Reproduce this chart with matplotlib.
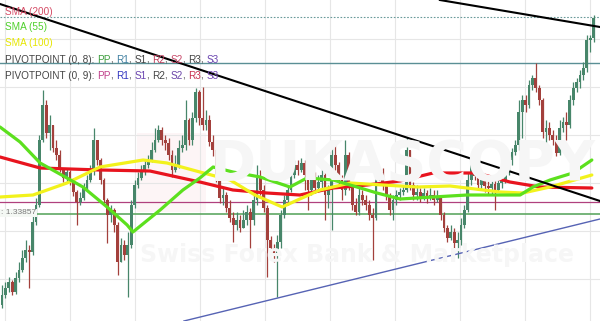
import numpy as np
import matplotlib
matplotlib.use("Agg")
import matplotlib.pyplot as plt
from matplotlib.patches import Rectangle

# prices in pips above 1.0000 (3386 -> 1.3386)
close_pips = [3305, 3312, 3318, 3308, 3322, 3330, 3342, 3350, 3348, 3378, 3395, 3460, 3495, 3467, 3475, 3452, 3445, 3432, 3422, 3428,
              3420, 3408, 3398, 3402, 3412, 3420, 3428, 3460, 3440, 3420, 3400, 3385, 3390, 3375, 3338, 3355, 3345, 3355, 3395, 3415,
              3422, 3428, 3435, 3440, 3450, 3460, 3470, 3460, 3457, 3445, 3430, 3435, 3452, 3455, 3480, 3460, 3482, 3508, 3482, 3475,
              3480, 3458, 3450, 3425, 3402, 3405, 3392, 3382, 3375, 3380, 3372, 3380, 3388, 3380, 3400, 3422, 3410, 3392, 3360, 3352,
              3345, 3358, 3385, 3400, 3410, 3425, 3435, 3430, 3437, 3425, 3410, 3422, 3412, 3418, 3425, 3405, 3410, 3445, 3435, 3420,
              3410, 3445, 3415, 3395, 3388, 3405, 3400, 3395, 3385, 3382, 3422, 3428, 3415, 3405, 3390, 3400, 3405, 3408, 3410, 3450,
              3415, 3405, 3408, 3402, 3407, 3402, 3405, 3400, 3404, 3385, 3372, 3362, 3368, 3357, 3360, 3375, 3390, 3420, 3435, 3424,
              3415, 3420, 3414, 3412, 3416, 3410, 3417, 3420, 3430, 3440, 3448, 3455, 3488, 3500, 3495, 3515, 3522, 3512, 3500, 3468,
              3472, 3465, 3460, 3447, 3472, 3478, 3475, 3500, 3512, 3518, 3525, 3532, 3560, 3562, 3582]
high_pips = [3315, 3318, 3323, 3320, 3328, 3338, 3350, 3360, 3355, 3385, 3402, 3465, 3510, 3500, 3485, 3470, 3460, 3450, 3430, 3432,
             3430, 3422, 3410, 3408, 3417, 3425, 3435, 3472, 3458, 3442, 3422, 3402, 3395, 3392, 3378, 3362, 3360, 3368, 3400, 3420,
             3428, 3435, 3440, 3445, 3458, 3472, 3475, 3473, 3465, 3462, 3450, 3445, 3460, 3465, 3500, 3482, 3488, 3512, 3510, 3513,
             3490, 3485, 3465, 3452, 3428, 3412, 3408, 3400, 3388, 3388, 3385, 3390, 3395, 3392, 3408, 3435, 3430, 3415, 3395, 3364,
             3356, 3365, 3390, 3405, 3414, 3430, 3440, 3440, 3442, 3440, 3428, 3428, 3428, 3425, 3432, 3430, 3415, 3458, 3460, 3438,
             3425, 3460, 3448, 3418, 3402, 3412, 3410, 3405, 3400, 3392, 3428, 3432, 3432, 3418, 3407, 3405, 3410, 3412, 3415, 3463,
             3450, 3418, 3415, 3412, 3412, 3410, 3412, 3410, 3410, 3405, 3388, 3375, 3375, 3372, 3368, 3382, 3395, 3428, 3440, 3440,
             3428, 3424, 3422, 3420, 3422, 3420, 3422, 3425, 3435, 3445, 3452, 3460, 3500, 3505, 3505, 3520, 3525, 3537, 3515, 3502,
             3480, 3478, 3470, 3465, 3480, 3483, 3488, 3505, 3518, 3522, 3530, 3538, 3565, 3565, 3585]
low_pips = [3292, 3302, 3308, 3305, 3306, 3318, 3328, 3338, 3312, 3345, 3375, 3393, 3458, 3462, 3450, 3448, 3440, 3428, 3418, 3418,
            3415, 3404, 3375, 3395, 3400, 3410, 3418, 3425, 3435, 3416, 3395, 3357, 3378, 3368, 3325, 3338, 3340, 3303, 3352, 3392,
            3412, 3420, 3425, 3432, 3438, 3448, 3458, 3455, 3450, 3440, 3423, 3428, 3432, 3448, 3450, 3455, 3455, 3478, 3475, 3470,
            3470, 3454, 3444, 3418, 3397, 3395, 3388, 3378, 3358, 3370, 3368, 3372, 3375, 3352, 3375, 3395, 3405, 3388, 3323, 3345,
            3338, 3303, 3352, 3382, 3395, 3408, 3422, 3425, 3428, 3410, 3390, 3405, 3407, 3408, 3412, 3380, 3392, 3370, 3430, 3415,
            3400, 3405, 3410, 3390, 3385, 3385, 3395, 3390, 3380, 3340, 3380, 3420, 3410, 3400, 3385, 3380, 3395, 3400, 3405, 3408,
            3410, 3400, 3400, 3398, 3400, 3397, 3400, 3395, 3398, 3380, 3368, 3358, 3360, 3352, 3342, 3355, 3372, 3388, 3415, 3420,
            3410, 3410, 3408, 3405, 3405, 3390, 3408, 3412, 3417, 3425, 3435, 3445, 3450, 3462, 3488, 3492, 3510, 3508, 3495, 3462,
            3442, 3460, 3455, 3444, 3445, 3468, 3460, 3472, 3495, 3508, 3512, 3520, 3528, 3548, 3558]
first_open_pips = 3295

# moving averages, read at a few bars (bar index, pips)
sma200_idx = [-0.6, 11.2, 28.8, 43.5, 58.2, 67.9, 77.9, 87.6, 97.4, 107.4, 117.1, 126.8, 139.7, 149.4, 158.2, 173.5]
sma200_pips = [3443, 3432, 3430, 3429, 3418, 3410, 3407, 3405, 3412, 3415, 3419, 3427, 3427, 3418, 3413, 3412]
sma100_idx = [-0.6, 9.1, 19.1, 28.8, 41.5, 48.5, 58.2, 67.1, 74.4, 82.4, 87.6, 93.5, 102.4, 112.1, 122.1, 131.8, 146.5, 153.2, 161.2, 173.5]
sma100_pips = [3403, 3405, 3417, 3433, 3440, 3437, 3428, 3420, 3405, 3393, 3401, 3410, 3417, 3415, 3413, 3414, 3408, 3407, 3413, 3425]
sma55_idx = [-0.6, 5.3, 11.2, 19.1, 23.8, 30.9, 36.8, 38.5, 46.5, 53.2, 58.2, 62.1, 67.9, 75.9, 84.7, 89.7, 97.4, 104.4, 110.3,
             117.1, 126.8, 136.8, 152.4, 156.2, 161.2, 167.9, 173.5]
sma55_pips = [3473, 3458, 3437, 3422, 3413, 3393, 3375, 3368, 3390, 3410, 3422, 3433, 3428, 3423, 3413, 3422, 3420, 3413, 3407,
              3401, 3403, 3405, 3405, 3413, 3420, 3427, 3440]

# horizontal levels and trendlines
last_price = 1.3583
pivot_r = 1.3537
pivot_pp = 1.3398
pivot_s = 1.33857
trend_down = ([-0.6, 175.9], [3596, 3399])
trend_top = ([128.8, 175.9], [3600, 3573])
trend_up = ([53.5, 175.9], [3279, 3381])


def px(p):
    return 1 + np.asarray(p, dtype=float) / 10000


fig = plt.figure(figsize=(6, 3.21), dpi=100)
ax = fig.add_axes([0, 0, 1, 1])
ax.set_xlim(-0.6, 175.9)
ax.set_ylim(1.3279, 1.3600)
ax.set_xticks(0.88 + 19.12 * np.arange(10))
ax.set_yticks(px(3561 - 48 * np.arange(6)))
ax.tick_params(length=0, labelbottom=False, labelleft=False)
ax.grid(True, color="#e6e6e6", lw=0.8)
for s in ax.spines.values():
    s.set_visible(False)

# watermark (very faint)
ax.add_patch(Rectangle((0.228, 0.34), 0.115, 0.245, transform=ax.transAxes, color="#fdf5f6", zorder=0.5, lw=0))
fig.text(210 / 600, 1 - 165 / 321, "DUKASCOPY", fontsize=40, fontweight="bold", color="#f6f6f6", va="center", zorder=0.5)
fig.text(140 / 600, 1 - 255 / 321, "Swiss Forex Bank & Marketplace", fontsize=17, fontweight="bold", color="#f6f6f6",
         va="center", zorder=0.5)

# levels
ax.axhline(last_price, color="#6a9a9a", lw=0.8, ls=(0, (1.5, 1.5)), zorder=2)
ax.axhline(pivot_r, color="#5a8f95", lw=1.0, zorder=2)
ax.axhline(pivot_pp, color="#b0407e", lw=0.9, zorder=2)
ax.axhline(pivot_s, color="#5fa863", lw=1.2, zorder=2)

# candles
c = px(close_pips)
o = np.concatenate([[px(first_open_pips)], c[:-1]])
h = np.maximum(px(high_pips), np.maximum(o, c))
l = np.minimum(px(low_pips), np.minimum(o, c))
idx = np.arange(len(c))
up = c >= o
green, red = "#47866a", "#a3403c"
cols = np.where(up, green, red)
ax.vlines(idx, l, h, colors=cols, lw=0.9, zorder=3)
ax.bar(idx, np.maximum(np.abs(c - o), 0.0001), bottom=np.minimum(o, c), width=0.8, color=cols, lw=0, zorder=3)

# moving averages
ax.plot(sma200_idx, px(sma200_pips), color="#e8141e", lw=2.3, solid_capstyle="round", zorder=4)
ax.plot(sma100_idx, px(sma100_pips), color="#f2f21c", lw=2.3, solid_capstyle="round", zorder=4)
ax.plot(sma55_idx, px(sma55_pips), color="#5ce01e", lw=2.3, solid_capstyle="round", zorder=4)

# trendlines
ax.plot(trend_down[0], px(trend_down[1]), color="black", lw=1.5, zorder=5)
ax.plot(trend_top[0], px(trend_top[1]), color="black", lw=1.5, zorder=5)
ax.plot(trend_up[0], px(trend_up[1]), color="#5663b4", lw=1.0, zorder=5)

# level label
fig.text(1 / 600, 1 - 213 / 321, ": 1.33857", fontsize=6, color="#7a7a7a", va="center", family="Liberation Sans",
         bbox=dict(boxstyle="square,pad=0.1", fc="#f4f8f4", ec="none"), zorder=6)

# legend texts
font = "Liberation Sans"
fs = 7.2
fig.text(5 / 600, 1 - 12 / 321, "SMA (200)", color="#d44a64", fontsize=fs, family=font, va="center", zorder=6)
fig.text(5 / 600, 1 - 27 / 321, "SMA (55)", color="#4fd02c", fontsize=fs, family=font, va="center", zorder=6)
fig.text(5 / 600, 1 - 43 / 321, "SMA (100)", color="#e6e600", fontsize=fs, family=font, va="center", zorder=6)

pivot8 = [("PIVOTPOINT (0, 8): ", "#444444"), ("PP", "#3e9e3e"), (", ", "#444444"), ("R1", "#3f7fa0"), (", ", "#444444"),
          ("S1", "#444444"), (", ", "#444444"), ("R2", "#c0405e"), (", ", "#444444"), ("S2", "#c84a6a"), (", ", "#444444"),
          ("R3", "#444444"), (", ", "#444444"), ("S3", "#6a44b0")]
pivot9 = [("PIVOTPOINT (0, 9): ", "#444444"), ("PP", "#c0408a"), (", ", "#444444"), ("R1", "#3034c0"), (", ", "#444444"),
          ("S1", "#6a44b0"), (", ", "#444444"), ("R2", "#444444"), (", ", "#444444"), ("S2", "#6a44a8"), (", ", "#444444"),
          ("R3", "#c83050"), (", ", "#444444"), ("S3", "#7044b0")]

renderer = fig.canvas.get_renderer()
for ypix, parts in [(60, pivot8), (76, pivot9)]:
    xpix = 5
    for s, col in parts:
        t = fig.text(xpix / 600, 1 - ypix / 321, s, color=col, fontsize=fs, family=font, va="center", zorder=6)
        xpix += t.get_window_extent(renderer).width

fig.savefig("out.png", dpi=100)
